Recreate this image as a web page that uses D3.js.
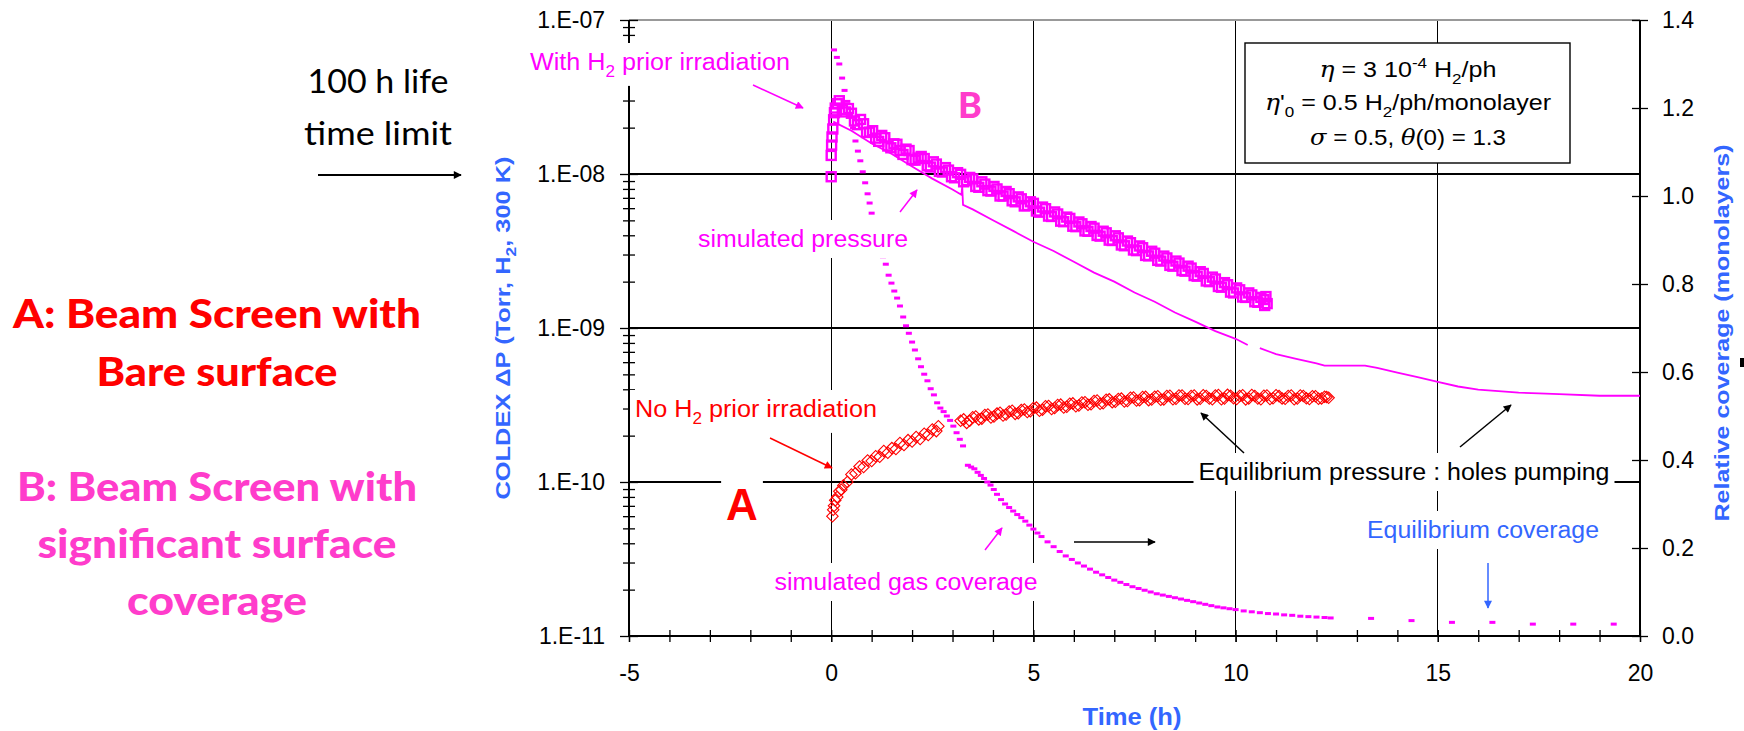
<!DOCTYPE html>
<html>
<head>
<meta charset="utf-8">
<script src="https://cdn.jsdelivr.net/npm/d3@7/dist/d3.min.js"></script>
<style>
  body { margin: 0; background: #fff; }
  svg { display: block; font-family: 'Liberation Sans', Arial, sans-serif; }
</style>
</head>
<body>
<div id="chart"></div>
<script>
// ---- data ----
// measured pressure, beam screen B (with H2 prior irradiation), Torr x 1e-9
const measBTime = [0, 0, 0.01, 0.02, 0.04, 0.06, 0.08, 0.1, 0.15,
  0.20, 0.35, 0.50, 0.65, 0.80, 0.95, 1.10, 1.25, 1.40, 1.55, 1.70, 1.85, 2.00, 2.15, 2.30, 2.45,
  2.60, 2.75, 2.90, 3.05, 3.20, 3.35, 3.50, 3.65, 3.80, 3.95, 4.10, 4.25, 4.40, 4.55, 4.70, 4.85,
  5.00, 5.15, 5.30, 5.45, 5.60, 5.75, 5.90, 6.05, 6.20, 6.35, 6.50, 6.65, 6.80, 6.95, 7.10, 7.25,
  7.40, 7.55, 7.70, 7.85, 8.00, 8.15, 8.30, 8.45, 8.60, 8.75, 8.90, 9.05, 9.20, 9.35, 9.50, 9.65,
  9.80, 9.95, 10.10, 10.25, 10.40, 10.55, 10.70, 10.72, 10.75, 10.78,
  0.275, 0.425, 0.575, 0.725, 0.875, 1.025, 1.175, 1.325, 1.475, 1.625, 1.775, 1.925, 2.075,
  2.225, 2.375, 2.525, 2.675, 2.825, 2.975, 3.125, 3.275, 3.425, 3.575, 3.725, 3.875, 4.025,
  4.175, 4.325, 4.475, 4.625, 4.775, 4.925, 5.075, 5.225, 5.375, 5.525, 5.675, 5.825, 5.975,
  6.125, 6.275, 6.425, 6.575, 6.725, 6.875, 7.025, 7.175, 7.325, 7.475, 7.625, 7.775, 7.925,
  8.075, 8.225, 8.375, 8.525, 8.675, 8.825, 8.975, 9.125, 9.275, 9.425, 9.575, 9.725, 9.875,
  10.025, 10.175, 10.325, 10.475, 10.625];
const measBPress = [9.6, 13.2, 15.4, 17.4, 19.6, 22.5, 25.0, 26.8, 28.6,
  29.9, 25.3, 24.8, 20.9, 21.2, 18.7, 17.1, 17.8, 15.2, 15.7, 14.2, 14.5, 12.4, 12.7, 12.6, 11.1,
  11.6, 10.3, 10.6, 9.45, 9.95, 9.05, 9.30, 8.20, 8.60, 7.75, 8.00, 7.20, 7.45, 6.60, 6.90, 6.25,
  6.45, 5.65, 5.95, 5.30, 5.50, 4.90, 5.15, 4.55, 4.75, 4.25, 4.45, 3.95, 4.15, 3.70, 3.85, 3.42,
  3.58, 3.18, 3.32, 2.94, 3.06, 2.72, 2.85, 2.52, 2.64, 2.34, 2.45, 2.17, 2.26, 2.00, 2.08, 1.84,
  1.91, 1.69, 1.77, 1.58, 1.64, 1.47, 1.53, 1.40, 1.60, 1.44,
  26.2, 26.6, 22.1, 22.6, 18.6, 19.1, 16.3, 17.2, 14.8, 15.6, 13.4, 14.2, 12.3,
  13.0, 11.3, 12.0, 10.4, 11.0, 9.6, 10.2, 8.9, 9.5, 8.3, 8.9, 7.8, 8.3,
  7.2, 7.7, 6.7, 7.1, 6.2, 6.6, 5.75, 6.1, 5.33, 5.67, 4.94, 5.25, 4.58,
  4.88, 4.27, 4.56, 3.99, 4.25, 3.72, 3.97, 3.46, 3.67, 3.21, 3.41, 2.96, 3.15,
  2.75, 2.93, 2.55, 2.72, 2.36, 2.52, 2.19, 2.32, 2.02, 2.14, 1.86, 1.97, 1.71,
  1.82, 1.59, 1.69, 1.48, 1.58];

// measured pressure, beam screen A (no H2 prior irradiation), Torr x 1e-10
const measATime = [0.03, 0.05, 0.07, 0.10, 0.15, 0.20, 0.25, 0.30, 0.40, 0.50, 0.60, 0.70, 0.80,
  0.90, 1.00, 1.10, 1.20, 1.30, 1.40, 1.50, 1.60, 1.70, 1.80, 1.90, 2.00, 2.10, 2.20, 2.30, 2.40,
  2.50, 2.60, 2.65, 3.20, 3.35, 3.50, 3.65, 3.80, 3.95, 4.10, 4.25, 4.40, 4.55, 4.70, 4.85, 5.00,
  5.15, 5.30, 5.45, 5.60, 5.75, 5.90, 6.05, 6.20, 6.35, 6.50, 6.65, 6.80, 6.95, 7.10, 7.25, 7.40,
  7.55, 7.70, 7.85, 8.00, 8.15, 8.30, 8.45, 8.60, 8.75, 8.90, 9.05, 9.20, 9.35, 9.50, 9.65, 9.80,
  9.95, 10.10, 10.25, 10.40, 10.55, 10.70, 10.85, 11.00, 11.15, 11.30, 11.45, 11.60, 11.75, 11.90,
  12.05, 12.20, 12.30,
  3.275, 3.425, 3.575, 3.725, 3.875, 4.025, 4.175, 4.325, 4.475, 4.625, 4.775, 4.925, 5.075,
  5.225, 5.375, 5.525, 5.675, 5.825, 5.975, 6.125, 6.275, 6.425, 6.575, 6.725, 6.875, 7.025,
  7.175, 7.325, 7.475, 7.625, 7.775, 7.925, 8.075, 8.225, 8.375, 8.525, 8.675, 8.825, 8.975,
  9.125, 9.275, 9.425, 9.575, 9.725, 9.875, 10.025, 10.175, 10.325, 10.475, 10.625, 10.775,
  10.925, 11.075, 11.225, 11.375, 11.525, 11.675, 11.825, 11.975, 12.125, 12.25];
const measAPress = [0.60, 0.66, 0.70, 0.76, 0.80, 0.87, 0.89, 0.95, 1.00, 1.12, 1.14, 1.26, 1.25,
  1.38, 1.37, 1.47, 1.46, 1.59, 1.55, 1.66, 1.64, 1.79, 1.74, 1.87, 1.83, 1.96, 1.90, 2.06, 2.02,
  2.19, 2.14, 2.30, 2.50, 2.42, 2.63, 2.55, 2.72, 2.62, 2.78, 2.70, 2.87, 2.77, 2.93, 2.85, 3.02,
  2.90, 3.10, 2.98, 3.16, 3.05, 3.22, 3.10, 3.28, 3.17, 3.36, 3.22, 3.42, 3.30, 3.46, 3.33, 3.52,
  3.38, 3.56, 3.40, 3.58, 3.42, 3.62, 3.45, 3.65, 3.47, 3.62, 3.44, 3.66, 3.48, 3.64, 3.45, 3.68,
  3.50, 3.62, 3.44, 3.67, 3.48, 3.63, 3.46, 3.66, 3.49, 3.62, 3.45, 3.65, 3.50, 3.60, 3.47, 3.58,
  3.52,
  2.55, 2.50, 2.66, 2.58, 2.74, 2.66, 2.82, 2.74, 2.90, 2.80, 2.96, 2.88, 3.04,
  2.95, 3.12, 3.02, 3.18, 3.08, 3.24, 3.14, 3.30, 3.20, 3.38, 3.25, 3.44, 3.32,
  3.48, 3.36, 3.54, 3.40, 3.57, 3.43, 3.60, 3.44, 3.63, 3.47, 3.64, 3.46, 3.65,
  3.47, 3.62, 3.45, 3.67, 3.48, 3.63, 3.46, 3.66, 3.49, 3.62, 3.45, 3.65,
  3.50, 3.61, 3.47, 3.64, 3.48, 3.62, 3.46, 3.60, 3.49, 3.56];

// simulated pressure (Torr), null = gap in the curve
const simPressTime = [0.05, 0.5, 1.0, 1.5, 2.0, 2.5, 3.0, 3.22, 3.24, 3.26, 3.5, 4.0, 4.5, 5.0,
  5.5, 6.0, 6.5, 7.0, 7.5, 8.0, 8.5, 9.0, 9.5, 10.0, 10.3, 10.45, 10.6, 11.0, 11.5, 12.0, 12.2,
  13.2, 13.5, 14.0, 14.5, 15.0, 15.5, 16.0, 16.5, 17.0, 17.5, 18.0, 19.0, 20.0];
const simPress = [2.19e-8, 1.91e-8, 1.58e-8, 1.35e-8, 1.12e-8, 9.33e-9, 7.94e-9, 7.33e-9, 8.3e-9,
  6.3e-9, 5.89e-9, 5.01e-9, 4.27e-9, 3.63e-9, 3.16e-9, 2.69e-9, 2.29e-9, 2.00e-9, 1.70e-9,
  1.48e-9, 1.26e-9, 1.10e-9, 9.55e-10, 8.51e-10, 7.76e-10, null, 7.41e-10, 6.76e-10, 6.31e-10,
  5.89e-10, 5.69e-10, 5.69e-10, 5.50e-10, 5.13e-10, 4.79e-10, 4.47e-10, 4.17e-10, 3.98e-10,
  3.89e-10, 3.80e-10, 3.76e-10, 3.72e-10, 3.63e-10, 3.63e-10];

// simulated gas coverage (monolayers, right axis)
const covTime = [0.07, 0.14, 0.20, 0.27, 0.33, 0.40, 0.47, 0.54, 0.60, 0.66, 0.72, 0.78, 0.84,
  0.90, 0.95, 1.00, 1.07, 1.14, 1.21, 1.28, 1.35, 1.42, 1.49, 1.56, 1.63, 1.70, 1.78, 1.85, 1.92,
  2.00, 2.07, 2.15, 2.22, 2.30, 2.38, 2.46, 2.54, 2.62, 2.70, 2.78, 2.86, 2.94, 3.02, 3.10, 3.18,
  3.26, 3.38, 3.46, 3.54, 3.62, 3.70, 3.78, 3.86, 3.94, 4.02, 4.10, 4.20, 4.30, 4.40, 4.50, 4.60,
  4.70, 4.80, 4.90, 5.00, 5.10, 5.20, 5.35, 5.50, 5.65, 5.80, 5.95, 6.10, 6.25, 6.40, 6.55, 6.70,
  6.85, 7.00, 7.15, 7.30, 7.45, 7.60, 7.75, 7.90, 8.05, 8.20, 8.35, 8.50, 8.65, 8.80, 8.95, 9.10,
  9.25, 9.40, 9.55, 9.70, 9.85, 10.00, 10.20, 10.40, 10.60, 10.80, 11.00, 11.20, 11.40, 11.60,
  11.80, 12.00, 12.20, 12.35, 13.35, 14.35, 15.35, 16.35, 17.35, 18.35, 19.35];
const covValue = [1.332, 1.315, 1.300, 1.268, 1.240, 1.215, 1.185, 1.155, 1.125, 1.102, 1.080,
  1.055, 1.030, 1.005, 0.984, 0.961, 0.935, 0.910, 0.885, 0.862, 0.845, 0.820, 0.802, 0.784,
  0.768, 0.750, 0.725, 0.705, 0.688, 0.668, 0.650, 0.630, 0.612, 0.595, 0.580, 0.562, 0.548,
  0.530, 0.518, 0.510, 0.500, 0.490, 0.477, 0.462, 0.447, 0.432, 0.388, 0.384, 0.380, 0.372,
  0.365, 0.358, 0.350, 0.343, 0.333, 0.322, 0.310, 0.300, 0.292, 0.284, 0.276, 0.269, 0.261,
  0.252, 0.243, 0.234, 0.226, 0.214, 0.203, 0.192, 0.182, 0.174, 0.166, 0.159, 0.152, 0.145,
  0.139, 0.133, 0.127, 0.122, 0.117, 0.112, 0.108, 0.104, 0.100, 0.096, 0.093, 0.090, 0.087,
  0.084, 0.081, 0.078, 0.075, 0.072, 0.069, 0.066, 0.064, 0.062, 0.060, 0.057, 0.055, 0.053,
  0.051, 0.050, 0.048, 0.047, 0.045, 0.044, 0.043, 0.042, 0.041, 0.040, 0.035, 0.031, 0.031,
  0.027, 0.027, 0.027];

// axis ticks
const timeTicks = [-5, 0, 5, 10, 15, 20];
const pressDecades = [1e-11, 1e-10, 1e-9, 1e-8, 1e-7];
const covTicks = [0, 0.2, 0.4, 0.6, 0.8, 1.0, 1.2, 1.4];

// ---- layout ----
const W = 1744, H = 731;
const plot = { left: 629, right: 1640, top: 20, bottom: 636 };
const MAG = "#FF00FF", RED = "#FF0000", BLUE = "#3366FF", PINK = "#FF3CCB";

const svg = d3.select("#chart").append("svg")
  .attr("width", W).attr("height", H).attr("viewBox", `0 0 ${W} ${H}`);

const defs = svg.append("defs");
[["black", "#000"], ["mag", MAG], ["red", RED], ["blue", BLUE]].forEach(([id, c]) => {
  defs.append("marker").attr("id", "arr-" + id)
    .attr("viewBox", "0 0 10 10").attr("refX", 9).attr("refY", 5)
    .attr("markerWidth", 11).attr("markerHeight", 8).attr("markerUnits", "userSpaceOnUse")
    .attr("orient", "auto")
    .append("path").attr("d", "M0,0 L10,5 L0,10 Z").attr("fill", c);
});

const x = d3.scaleLinear().domain([-5, 20]).range([plot.left, plot.right]);
const yP = d3.scaleLog().domain([1e-11, 1e-7]).range([plot.bottom, plot.top]);
const yC = d3.scaleLinear().domain([0, 1.4]).range([plot.bottom, plot.top]);

// gridlines
const grid = svg.append("g").attr("shape-rendering", "crispEdges");
grid.selectAll(".vg").data(timeTicks.filter(d => d > -5 && d < 20)).enter().append("line")
  .attr("x1", d => x(d)).attr("x2", d => x(d))
  .attr("y1", plot.top).attr("y2", plot.bottom)
  .attr("stroke", "#000").attr("stroke-width", 1.2);
grid.selectAll(".hg").data(pressDecades.slice(1, 4)).enter().append("line")
  .attr("x1", plot.left).attr("x2", plot.right)
  .attr("y1", d => yP(d)).attr("y2", d => yP(d))
  .attr("stroke", "#000").attr("stroke-width", 1.2);
grid.append("line").attr("x1", plot.left).attr("x2", plot.right)
  .attr("y1", plot.top).attr("y2", plot.top).attr("stroke", "#999").attr("stroke-width", 1.2);

// axes: ticks cross the axis line, so each one is drawn outward and inward
const minorP = [];
pressDecades.slice(0, 4).forEach(d => { for (let k = 2; k <= 9; k++) minorP.push(d * k); });
const expLabel = d => "1.E-" + String(-Math.round(Math.log10(d))).padStart(2, "0");

function styleAxis(g, size) {
  g.select(".domain").remove();
  g.selectAll("line").attr("stroke", "#000").attr("stroke-width", 1.3);
  g.selectAll("text").attr("font-size", size).attr("fill", "#000")
    .attr("font-family", "'Liberation Sans', Arial, sans-serif");
}
const noLabel = () => "";

const axL = svg.append("g").attr("transform", `translate(${plot.left},0)`);
axL.append("g").call(d3.axisLeft(yP).tickValues(pressDecades).tickFormat(expLabel).tickSize(9).tickPadding(15)).call(styleAxis, 23);
axL.append("g").call(d3.axisRight(yP).tickValues(pressDecades).tickFormat(noLabel).tickSize(9)).call(styleAxis, 23);
axL.append("g").call(d3.axisLeft(yP).tickValues(minorP).tickFormat(noLabel).tickSize(6)).call(styleAxis, 23);
axL.append("g").call(d3.axisRight(yP).tickValues(minorP).tickFormat(noLabel).tickSize(6)).call(styleAxis, 23);

const axB = svg.append("g").attr("transform", `translate(0,${plot.bottom})`);
axB.append("g").call(d3.axisBottom(x).tickValues(timeTicks).tickFormat(d => String(d)).tickSize(6).tickPadding(23)).call(styleAxis, 23);
axB.append("g").call(d3.axisBottom(x).tickValues(d3.range(-5, 21)).tickFormat(noLabel).tickSize(6)).call(styleAxis, 23);
axB.append("g").call(d3.axisTop(x).tickValues(d3.range(-5, 21)).tickFormat(noLabel).tickSize(6)).call(styleAxis, 23);

const axR = svg.append("g").attr("transform", `translate(${plot.right},0)`);
axR.append("g").call(d3.axisRight(yC).tickValues(covTicks).tickFormat(d3.format(".1f")).tickSize(8).tickPadding(14)).call(styleAxis, 23);
axR.append("g").call(d3.axisLeft(yC).tickValues(covTicks).tickFormat(noLabel).tickSize(8)).call(styleAxis, 23);

const frame = svg.append("g").attr("stroke", "#000").attr("stroke-width", 1.4).attr("shape-rendering", "crispEdges");
frame.append("line").attr("x1", plot.left).attr("x2", plot.left).attr("y1", plot.top).attr("y2", plot.bottom);
frame.append("line").attr("x1", plot.right).attr("x2", plot.right).attr("y1", plot.top).attr("y2", plot.bottom);
frame.append("line").attr("x1", plot.left).attr("x2", plot.right).attr("y1", plot.bottom).attr("y2", plot.bottom);

// ---- data marks ----
const covData = covTime.map((t, i) => ({ t, v: covValue[i] }));
svg.append("g").selectAll("rect").data(covData).enter().append("rect")
  .attr("x", d => x(d.t) - 3).attr("y", d => yC(d.v) - 1.5)
  .attr("width", 6).attr("height", 3).attr("fill", MAG);

const simData = simPressTime.map((t, i) => ({ t, p: simPress[i] }));
svg.append("path").datum(simData)
  .attr("fill", "none").attr("stroke", MAG).attr("stroke-width", 1.8)
  .attr("d", d3.line().defined(d => d.p !== null).x(d => x(d.t)).y(d => yP(d.p)));

const aData = measATime.map((t, i) => ({ t, p: measAPress[i] * 1e-10 }));
const diamond = d3.symbol().type(d3.symbolSquare).size(66);
svg.append("g").selectAll("path").data(aData).enter().append("path")
  .attr("d", diamond)
  .attr("transform", d => `translate(${x(d.t)},${yP(d.p)}) rotate(45)`)
  .attr("fill", "none").attr("stroke", RED).attr("stroke-width", 1.1);

const bData = measBTime.map((t, i) => ({ t, p: measBPress[i] * 1e-9 }));
svg.append("g").selectAll("rect").data(bData).enter().append("rect")
  .attr("x", d => x(d.t) - 4.5).attr("y", d => yP(d.p) - 4.5)
  .attr("width", 9).attr("height", 9)
  .attr("fill", "none").attr("stroke", MAG).attr("stroke-width", 2.4);

// ---- annotations ----
function rich(parent, px, py, parts, o) {
  const t = parent.append("text").attr("x", px).attr("y", py)
    .attr("text-anchor", o.anchor || "middle")
    .attr("font-size", o.size).attr("fill", o.color || "#000")
    .attr("font-weight", o.weight || "normal");
  if (o.family) t.attr("font-family", o.family);
  let shift = 0;
  parts.forEach(p => {
    const [s, kind] = Array.isArray(p) ? p : [p, ""];
    const want = kind === "sub" ? o.size * 0.3 : kind === "sup" ? -o.size * 0.4 : 0;
    const ts = t.append("tspan").text(s).attr("dy", want - shift);
    shift = want;
    if (kind === "sub" || kind === "sup") ts.attr("font-size", o.size * 0.68);
    if (kind === "it") ts.attr("font-style", "italic").attr("font-family", "'DejaVu Serif', serif");
  });
  if (o.len) t.attr("textLength", o.len).attr("lengthAdjust", "spacingAndGlyphs");
  if (o.rotate) t.attr("transform", `rotate(${o.rotate},${px},${py})`);
  if (o.bg) {
    const bb = t.node().getBBox();
    parent.insert("rect", () => t.node())
      .attr("x", bb.x - 5).attr("y", bb.y - 6)
      .attr("width", bb.width + 10).attr("height", bb.height + 12)
      .attr("fill", "#fff");
  }
  return t;
}

function arrow(parent, x1, y1, x2, y2, color, id, w) {
  parent.append("line").attr("x1", x1).attr("y1", y1).attr("x2", x2).attr("y2", y2)
    .attr("stroke", color).attr("stroke-width", w || 1.5)
    .attr("marker-end", `url(#arr-${id})`);
}

const ann = svg.append("g");
const annFont = 23;
rich(ann, 660, 70, ["With H", ["2", "sub"], " prior irradiation"], { size: annFont, color: MAG, bg: true, len: 260 });
rich(ann, 803, 247, ["simulated pressure"], { size: annFont, color: MAG, bg: true, len: 210 });
rich(ann, 756, 417, ["No H", ["2", "sub"], " prior irradiation"], { size: annFont, color: RED, bg: true, len: 242 });
rich(ann, 906, 590, ["simulated gas coverage"], { size: annFont, color: MAG, bg: true, len: 263 });
rich(ann, 1404, 480, ["Equilibrium pressure : holes pumping"], { size: annFont, color: "#000", bg: true, len: 411 });
rich(ann, 1483, 538, ["Equilibrium coverage"], { size: annFont, color: BLUE, bg: true, len: 232 });

arrow(ann, 753, 85, 803, 108, MAG, "mag");
arrow(ann, 900, 212, 917, 190, MAG, "mag");
arrow(ann, 770, 438, 832, 468, RED, "red");
arrow(ann, 985, 550, 1002, 528, MAG, "mag");
arrow(ann, 1074, 542, 1155, 542, "#000", "black");
arrow(ann, 1244, 453, 1201, 413, "#000", "black");
arrow(ann, 1460, 447, 1511, 405, "#000", "black");
arrow(ann, 1488, 563, 1488, 608, BLUE, "blue");

rich(ann, 970, 118, ["B"], { size: 36, color: PINK, weight: "900", family: "Lato, 'DejaVu Sans', sans-serif", bg: true });
rich(ann, 742, 520, ["A"], { size: 44, color: RED, weight: "bold", bg: true });

// parameter box
ann.append("rect").attr("x", 1245).attr("y", 43).attr("width", 325).attr("height", 120)
  .attr("fill", "#fff").attr("stroke", "#000").attr("stroke-width", 1.4);
rich(ann, 1408, 77, [["η", "it"], " = 3 10", ["-4", "sup"], " H", ["2", "sub"], "/ph"], { size: 22, len: 177 });
rich(ann, 1408, 110, [["η", "it"], "'", ["0", "sub"], " = 0.5 H", ["2", "sub"], "/ph/monolayer"], { size: 22, len: 286 });
rich(ann, 1408, 145, [["σ", "it"], " = 0.5, ", ["θ", "it"], "(0) = 1.3"], { size: 22, len: 196 });

// axis titles
rich(svg, 510, 328, ["COLDEX ΔP (Torr, H", ["2", "sub"], ", 300 K)"], { size: 21, color: BLUE, weight: "bold", rotate: -90, len: 343 });
rich(svg, 1729, 333, ["Relative coverage (monolayers)"], { size: 21, color: BLUE, weight: "bold", rotate: -90, len: 377 });
rich(svg, 1132, 725, ["Time (h)"], { size: 24, color: BLUE, weight: "bold", len: 99 });
svg.append("rect").attr("x", 1740).attr("y", 358).attr("width", 4).attr("height", 9).attr("fill", "#000");

// ---- slide text on the left ----
const side = svg.append("g").attr("font-family", "Lato, 'DejaVu Sans', sans-serif");
rich(side, 378, 93, ["100 h life"], { size: 32, len: 141 });
rich(side, 378, 145, ["time limit"], { size: 32, len: 148 });
arrow(side, 318, 175, 461, 175, "#000", "black", 2);
rich(side, 217, 328, ["A: Beam Screen with"], { size: 40, color: RED, weight: "900", len: 408 });
rich(side, 217, 386, ["Bare surface"], { size: 40, color: RED, weight: "900", len: 241 });
rich(side, 217, 501, ["B: Beam Screen with"], { size: 40, color: PINK, weight: "900", len: 400 });
rich(side, 217, 558, ["significant surface"], { size: 40, color: PINK, weight: "900", len: 359 });
rich(side, 217, 615, ["coverage"], { size: 40, color: PINK, weight: "900", len: 180 });
</script>
</body>
</html>
